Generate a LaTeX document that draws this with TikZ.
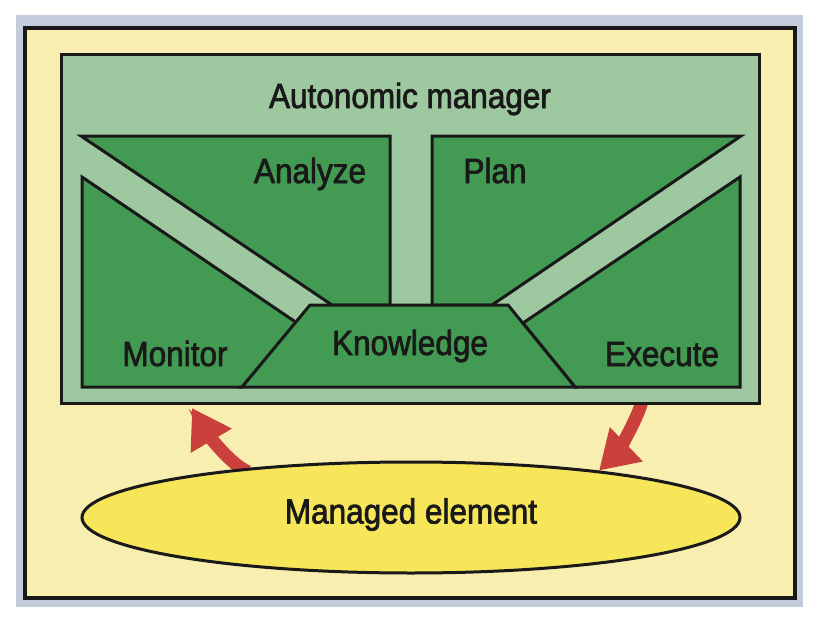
\documentclass[tikz,border=0pt]{standalone}
\usepackage{fontspec}
\setmainfont{Liberation Sans}[FakeStretch=0.9, FakeBold=2]
\usetikzlibrary{arrows.meta, shapes.geometric}
\pgfdeclarelayer{back}
\pgfdeclarelayer{flows}
\pgfsetlayers{back,flows,main}
\definecolor{framegray}{RGB}{196,203,219}
\definecolor{paleyellow}{RGB}{248,238,176}
\definecolor{palegreen}{RGB}{158,200,160}
\definecolor{panelgreen}{RGB}{67,154,82}
\definecolor{elemyellow}{RGB}{247,230,90}
\definecolor{arrowred}{RGB}{201,64,60}
\def\labelfont{\fontsize{35}{40}\selectfont}

\begin{document}
\begin{tikzpicture}[x = 1pt, y = -1pt,
		panel/.style = {draw = black!90, line width = 3pt, fill = panelgreen},
		lbl/.style = {anchor = base, inner sep = 0pt, text = black!90, font = \labelfont},
		flow/.style = {draw = arrowred, line width = 13pt, shorten <= -8pt, -{Triangle[length = 38pt, width = 45pt]}}]
		\useasboundingbox (0, 0) rectangle (836, 634);
		\begin{pgfonlayer}{back}
			\fill[white] (0, 0) rectangle (836, 634);
			\fill[framegray] (16, 15) rectangle (803, 607);
			\draw[line width = 4pt, draw = black!90, fill = paleyellow] (25, 28) rectangle (795, 598);
		\end{pgfonlayer}
		\node[draw = black!90, line width = 3pt, fill = palegreen, inner sep = 0pt, minimum width = 698pt, minimum height = 348pt] (manager) at (410, 229) {};
		\node[lbl] (title) at (410, 108) {Autonomic manager};
		% the four phases round the knowledge base
		\draw[panel] (81, 136) -- (390, 136) -- (390, 305) -- (332, 305) -- cycle;
		\draw[panel] (432, 136) -- (741, 136) -- (492, 305) -- (432, 305) -- cycle;
		\draw[panel] (82, 177) -- (297, 323) -- (242, 387) -- (82, 387) -- cycle;
		\draw[panel] (740, 177) -- (740, 387) -- (575, 387) -- (523, 323) -- cycle;
		\draw[panel] (310, 305) -- (508, 305) -- (575, 387) -- (242, 387) -- cycle;
		\foreach \name/\x/\y/\txt in {analyze/310/183/Analyze, plan/495/183/Plan, monitor/175/366/Monitor, knowledge/410/355/Knowledge, execute/662/366/Execute}
			\node[lbl] (\name) at (\x, \y) {\txt};
		\node[ellipse, draw = black!90, line width = 3pt, fill = elemyellow, inner sep = 0pt, minimum width = 658pt, minimum height = 111pt, font = \labelfont, text = black!90, text height = 24pt, text depth = 12pt] (element) at (411, 517.5) {Managed element};
		\coordinate (monin) at (192, 408);
		\coordinate (exout) at (642, 404);
		\begin{pgfonlayer}{flows}
			\draw[flow] (element.164) .. controls +(-14, -6) and +(10, 17) .. (monin);
			\draw[flow] (exout) .. controls +(-2, 14) and +(13, -12.5) .. (element.14.5);
		\end{pgfonlayer}
	\end{tikzpicture}
\end{document}
